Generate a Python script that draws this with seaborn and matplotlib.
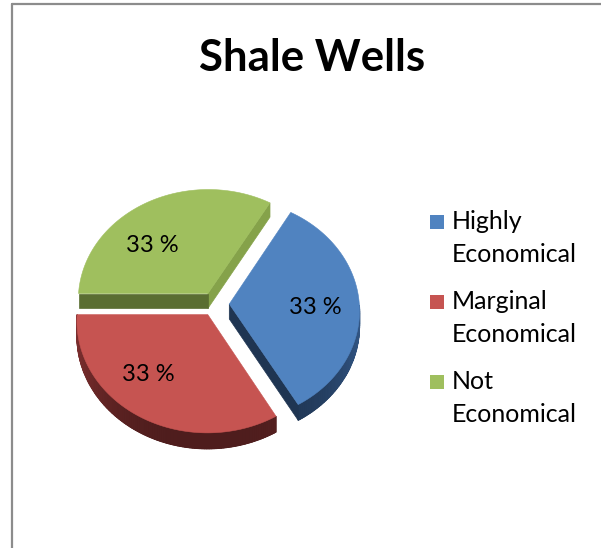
import numpy as np
import matplotlib
matplotlib.use("Agg")
import matplotlib.pyplot as plt
from matplotlib.patches import Polygon, Rectangle
from matplotlib.lines import Line2D
import matplotlib.colors as mcolors
import seaborn as sns

# ---- data -------------------------------------------------------------
title = "Shale Wells"
categories = ["Highly\nEconomical", "Marginal\nEconomical", "Not\nEconomical"]
values = [1, 1, 1]
top_colors = ["#5083C0", "#C65451", "#9FBF5E"]
side_colors = ["#1F3552", "#4E1D1D", "#5A6E32"]

# ---- style ------------------------------------------------------------
sns.set_theme(style="white")
plt.rcParams["font.family"] = ["Lato", "DejaVu Sans"]

W, H = 601, 548
fig = plt.figure(figsize=(W / 100, H / 100), dpi=100)
ax = fig.add_axes([0, 0, 1, 1])
ax.set_xlim(0, W)
ax.set_ylim(H, 0)
ax.axis("off")

# ---- 3-D pie geometry (screen pixels) ----------------------------------
XC, YC = 215.0, 304.0      # centre of the pie
RX, RY = 130.0, 110.7      # horizontal / vertical radius of the top face
PERSP = 0.054              # mild perspective: back half smaller
DEPTH = 15.0               # thickness of the pie
EXPLODE = 0.11             # every slice pulled out a little
START = 60.0               # first slice begins here, slices run clockwise
LABEL_R = 0.66             # label distance from the slice tip
LABEL_TURN = np.deg2rad(12)
LABEL_DROP = 4.0


def proj(u, v, z=0.0):
    s = 1.0 / (1.0 + PERSP * v)
    return (XC + u * RX * s, YC - v * RY * s + z * DEPTH * s)


def shade(color, f):
    r, g, b = mcolors.to_rgb(color)
    return (min(r * f, 1), min(g * f, 1), min(b * f, 1))


vals = np.asarray(values, dtype=float)
frac = vals / vals.sum()
bounds = START - 360.0 * np.concatenate([[0.0], np.cumsum(frac)])

side_patches = []
top_patches = []
label_pos = []

for i in range(len(vals)):
    hi, lo = np.deg2rad(bounds[i]), np.deg2rad(bounds[i + 1])   # lo < hi
    mid = 0.5 * (hi + lo)
    ox, oy = EXPLODE * np.cos(mid), EXPLODE * np.sin(mid)
    ts = np.linspace(lo, hi, 120)

    # top face
    rim = [proj(ox + np.cos(t), oy + np.sin(t)) for t in ts]
    top = [proj(ox, oy)] + rim
    top_patches.append(Polygon(top, closed=True, facecolor=top_colors[i],
                               edgecolor=top_colors[i], lw=0.4, zorder=3))

    # outer rim wall (front half only): a solid base, then shaded strips
    front = [t for t in ts if np.sin(t) < 0]
    if len(front) > 1:
        upper = [proj(ox + np.cos(t), oy + np.sin(t)) for t in front]
        lower = [proj(ox + np.cos(t), oy + np.sin(t), 1) for t in front[::-1]]
        side_patches.append(Polygon(upper + lower, closed=True,
                                    facecolor=side_colors[i],
                                    edgecolor=side_colors[i], lw=0.5, zorder=2))
        for t0, t1 in zip(front[:-1], front[1:]):
            tm = 0.5 * (t0 + t1)
            f = 1.0 + 0.6 * abs(np.cos(tm)) ** 3
            quad = [proj(ox + np.cos(t0), oy + np.sin(t0)),
                    proj(ox + np.cos(t1), oy + np.sin(t1)),
                    proj(ox + np.cos(t1), oy + np.sin(t1), 1),
                    proj(ox + np.cos(t0), oy + np.sin(t0), 1)]
            c = shade(side_colors[i], f)
            side_patches.append(Polygon(quad, closed=True, facecolor=c,
                                        edgecolor=c, lw=0.8, zorder=2))

    # radial cut faces that turn towards the viewer
    for edge, normal in ((lo, lo - np.pi / 2), (hi, hi + np.pi / 2)):
        if np.sin(normal) >= -1e-6:
            continue
        lit = 1.0 + 0.55 * max(np.cos(normal), 0)
        if i == 0:
            lit = 1.0
        c = shade(side_colors[i], lit)
        face = [proj(ox, oy), proj(ox + np.cos(edge), oy + np.sin(edge)),
                proj(ox + np.cos(edge), oy + np.sin(edge), 1), proj(ox, oy, 1)]
        side_patches.append(Polygon(face, closed=True, facecolor=c,
                                    edgecolor=c, lw=0.5, zorder=2))

    # labels lean a little towards the left-hand side of their slice
    la = mid + LABEL_TURN * np.sign(np.round(np.sin(mid), 6))
    lx, ly = proj(ox + LABEL_R * np.cos(la), oy + LABEL_R * np.sin(la))
    label_pos.append((lx, ly + LABEL_DROP))

for p in side_patches + top_patches:
    ax.add_patch(p)

# percentage labels
for (lx, ly), v in zip(label_pos, frac):
    ax.text(lx, ly, f"{round(100 * v):.0f} %", ha="center", va="center",
            fontsize=17, color="black", zorder=5)

# ---- title -------------------------------------------------------------
ax.text(312, 71, title, ha="center", va="baseline", fontsize=31.5,
        fontweight="bold", color="black")

# ---- legend ------------------------------------------------------------
LEG_X, LEG_Y, ENTRY_GAP, LINE_GAP = 430, 229, 80, 33
for i, name in enumerate(categories):
    base = LEG_Y + i * ENTRY_GAP
    ax.add_patch(Rectangle((LEG_X, base - 14), 14, 14, facecolor=top_colors[i],
                           edgecolor="none"))
    for j, line in enumerate(name.split("\n")):
        ax.text(LEG_X + 22, base + j * LINE_GAP, line, ha="left", va="baseline",
                fontsize=18, color="black")

# ---- chart frame -------------------------------------------------------
fig.add_artist(Line2D([11.5 / W, 11.5 / W], [0, 1 - 3.5 / H], color="#8C8C8C",
                      lw=1.6, transform=fig.transFigure))
fig.add_artist(Line2D([11.5 / W, 1], [1 - 3.5 / H, 1 - 3.5 / H], color="#8C8C8C",
                      lw=1.6, transform=fig.transFigure))

fig.savefig("out.png", dpi=100, facecolor="white")
